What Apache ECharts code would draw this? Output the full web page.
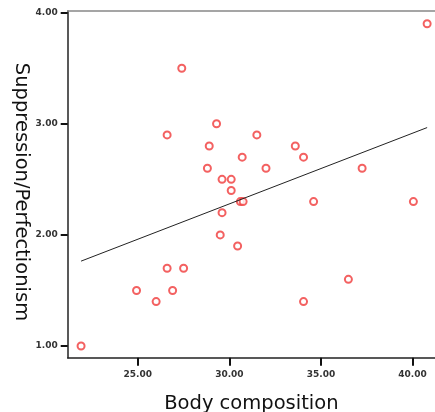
<!DOCTYPE html>
<html>
<head>
<meta charset="utf-8">
<script src="https://cdn.jsdelivr.net/npm/echarts@6/dist/echarts.min.js"></script>
<style>
html,body{margin:0;padding:0;background:#fff;}
#chart{width:435px;height:412px;}
</style>
</head>
<body>
<div id="chart"></div>
<script>
// Body composition (x) vs Suppression/Perfectionism (y)
var bodyComposition = [27.4, 29.3, 26.6, 31.5, 28.9, 33.6, 30.7, 34.05, 28.8, 32.0,
                       37.25, 29.6, 30.1, 30.1, 30.6, 30.75, 34.6, 40.05, 29.6, 29.5,
                       30.45, 26.6, 27.5, 24.93, 26.9, 26.0, 34.05, 36.5, 21.9, 40.8];
var suppression = [3.5, 3.0, 2.9, 2.9, 2.8, 2.8, 2.7, 2.7, 2.6, 2.6,
                   2.6, 2.5, 2.5, 2.4, 2.3, 2.3, 2.3, 2.3, 2.2, 2.0,
                   1.9, 1.7, 1.7, 1.5, 1.5, 1.4, 1.4, 1.6, 1.0, 3.9];
// fitted line endpoints
var fitX = [21.9, 40.8];
var fitY = [1.764, 2.966];
var xTicks = [25, 30, 35, 40];
var yTicks = [1, 2, 3, 4];

var points = bodyComposition.map(function (x, i) { return [x, suppression[i]]; });
var fit = fitX.map(function (x, i) { return [x, fitY[i]]; });

var chart = echarts.init(document.getElementById('chart'));
chart.setOption({
  animation: false,
  backgroundColor: '#fff',
  grid: { left: 67.7, right: 0, top: 11, bottom: 54.3, containLabel: false, outerBoundsMode: 'none' },
  xAxis: [{
    type: 'value', min: 21.17, max: 41.23,
    name: 'Body composition', nameLocation: 'middle', nameGap: 36.5,
    nameTextStyle: { fontFamily: 'DejaVu Sans', fontSize: 19.5, color: '#111' },
    splitLine: { show: false },
    axisLine: { show: true, onZero: false, lineStyle: { color: '#222', width: 1.5 } },
    axisTick: { show: true, length: 8, customValues: xTicks, lineStyle: { color: '#111', width: 2 } },
    axisLabel: { customValues: xTicks, margin: 12, fontFamily: 'DejaVu Sans', fontSize: 9, fontWeight: 'bold', color: '#333',
      formatter: function (v) { return v.toFixed(2); } }
  }, {
    type: 'value', position: 'top', min: 21.17, max: 41.23,
    splitLine: { show: false },
    axisLine: { show: true, onZero: false, lineStyle: { color: '#888', width: 1.5 } },
    axisTick: { show: false }, axisLabel: { show: false }
  }],
  yAxis: {
    type: 'value', min: 0.895, max: 4.015,
    splitLine: { show: false },
    axisLine: { show: true, onZero: false, lineStyle: { color: '#222', width: 1.5 } },
    axisTick: { show: true, length: 7, customValues: yTicks, lineStyle: { color: '#111', width: 2 } },
    axisLabel: { customValues: yTicks, margin: 10, fontFamily: 'DejaVu Sans', fontSize: 9, fontWeight: 'bold', color: '#333',
      formatter: function (v) { return v.toFixed(2); } }
  },
  graphic: [{
    type: 'text', x: 21, y: 192, rotation: -Math.PI / 2,
    style: { text: 'Suppression/Perfectionism', font: '19.5px "DejaVu Sans"', fill: '#111',
      align: 'center', verticalAlign: 'middle' }
  }],
  series: [{
    type: 'scatter', data: points, symbol: 'emptyCircle', symbolSize: 7,
    itemStyle: { color: '#f03a3a', borderColor: '#f03a3a', borderWidth: 1.2 }
  }, {
    type: 'line', data: fit, symbol: 'none', lineStyle: { color: '#222', width: 1 }
  }]
});
</script>
</body>
</html>
